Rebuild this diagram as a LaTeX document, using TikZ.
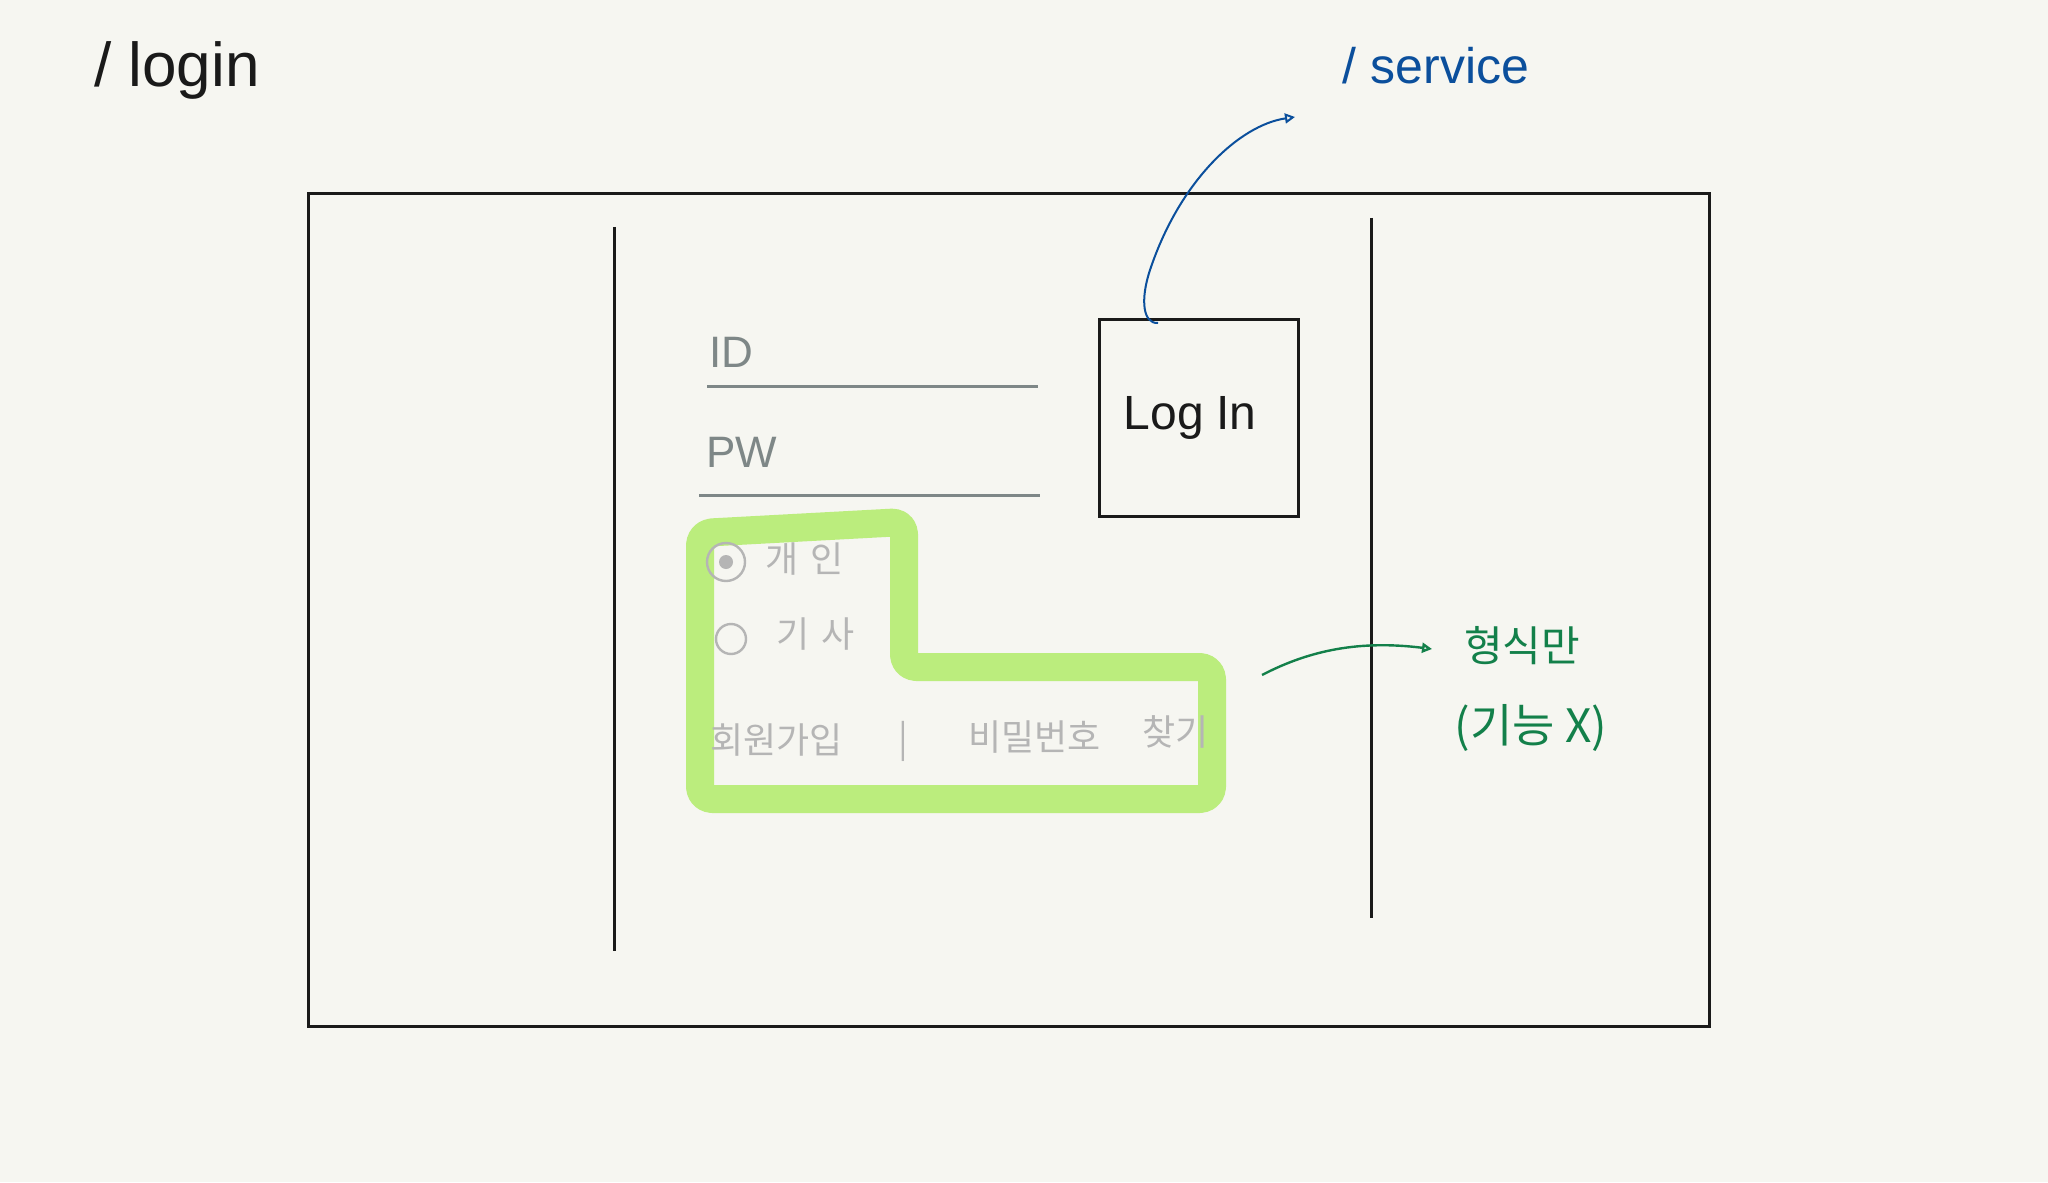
\documentclass[tikz,border=0pt]{standalone}
\usepackage{fontspec}
\setmainfont{Liberation Sans}
\newfontfamily\kr{Noto Sans CJK KR}
\usetikzlibrary{arrows.meta}
\definecolor{bg}{HTML}{F6F6F1}
\definecolor{ink}{HTML}{1A1A1A}
\definecolor{fieldgray}{HTML}{7E8787}
\definecolor{lightgray}{HTML}{B5B5B5}
\definecolor{hl}{HTML}{BBED7D}
\definecolor{penblue}{HTML}{0B4F9C}
\definecolor{pengreen}{HTML}{13804A}
\tikzset{
  frameline/.style={draw=ink, line width=1.5pt},
  fieldline/.style={draw=fieldgray, line width=1.5pt},
  fieldtext/.style={text=fieldgray, font=\fontsize{22}{24}\selectfont, inner sep=0pt},
  softtext/.style={text=lightgray, font=\kr\fontsize{18}{20}\selectfont, inner sep=0pt},
  radio/.style={circle, draw=lightgray, line width=1.2pt, inner sep=0pt},
  note/.style={text=pengreen, font=\kr\fontsize{21}{23}\selectfont, inner sep=0pt},
  tipopen/.style={-{Triangle[open, length=5pt, width=5pt]}}
}
\begin{document}
\begin{tikzpicture}[x=0.5pt, y=-0.5pt]
\fill[bg] (0,0) rectangle (2048,1182);
\useasboundingbox (0,0) rectangle (2048,1182);

% page title
\node[text=ink, font=\fontsize{31}{33}\selectfont, inner sep=0pt] (logintitle) at (177,70) {/ login};

% screen frame
\node[frameline, minimum width=700.5pt, minimum height=416pt, inner sep=0pt] (screen) at (1008.5,610) {};
\coordinate (lt) at (614,227); \coordinate (lb) at (614,951);
\coordinate (rt) at (1371,218); \coordinate (rb) at (1371,918);
\draw[ink, line width=1.5pt] (lt) -- (lb);
\draw[ink, line width=1.5pt] (rt) -- (rb);

% highlight
\draw[hl, line width=14pt, line join=round, rounded corners=6pt]
  (700,533) -- (904,522) -- (904,667) -- (1212,667) -- (1212,799) -- (700,799) -- cycle;

% ID / PW
\node[fieldtext] (idlabel) at (731,352) {ID};
\node[fieldtext] (pwlabel) at (742,452) {PW};
\coordinate (id1) at (707,386); \coordinate (id2) at (1038,386);
\coordinate (pw1) at (699,495); \coordinate (pw2) at (1040,495);
\draw[fieldline] (id1) -- (id2);
\draw[fieldline] (pw1) -- (pw2);

% radio options
\node[radio, minimum size=19pt] (r1) at (726,562) {};
\fill[lightgray] (r1.center) circle (3.5pt);
\node[softtext, anchor=west] (r1text) at (765,559) {개\hspace{6pt}인};
\node[radio, minimum size=15pt] (r2) at (731,639) {};
\node[softtext, anchor=west] (r2text) at (776,634) {기\hspace{6pt}사};

% links
\node[softtext, anchor=west] (signup) at (710,740) {회원가입};
\node[softtext] (sep) at (903,741) {|};
\node[softtext, anchor=west] (findpw) at (968,737) {비밀번호};
\node[softtext, anchor=west] (findpw2) at (1142,732) {찾기};

% login button
\node[frameline, minimum width=99.5pt, minimum height=98.5pt, inner sep=0pt] (login) at (1198.5,417.5) {};
\node[text=ink, font=\fontsize{24}{26}\selectfont, inner sep=0pt] (logintext) at (1190,418) {Log\hspace{6pt}In};

% service annotation
\node[text=penblue, font=\fontsize{25}{27}\selectfont, inner sep=0pt] (service) at (1436,66) {/ service};
\coordinate (svcstart) at (1158,323);
\coordinate (svcend) at (1295,117);
\draw[penblue, line width=1pt, tipopen]
  (svcstart) .. controls (1143,324) and (1140,300) .. (1150,270)
  .. controls (1180,180) and (1240,125) .. (svcend);

% form-only annotation
\node[note] (formonly) at (1522,646) {형식만};
\node[note, font=\kr\fontsize{23}{25}\selectfont] (nofunc) at (1531,728) {(기능 X)};
\coordinate (fostart) at (1262,675);
\coordinate (foend) at (1432,649);
\draw[pengreen, line width=1.2pt, tipopen]
  (fostart) .. controls (1310,650) and (1360,640) .. (foend);
\end{tikzpicture}
\end{document}
